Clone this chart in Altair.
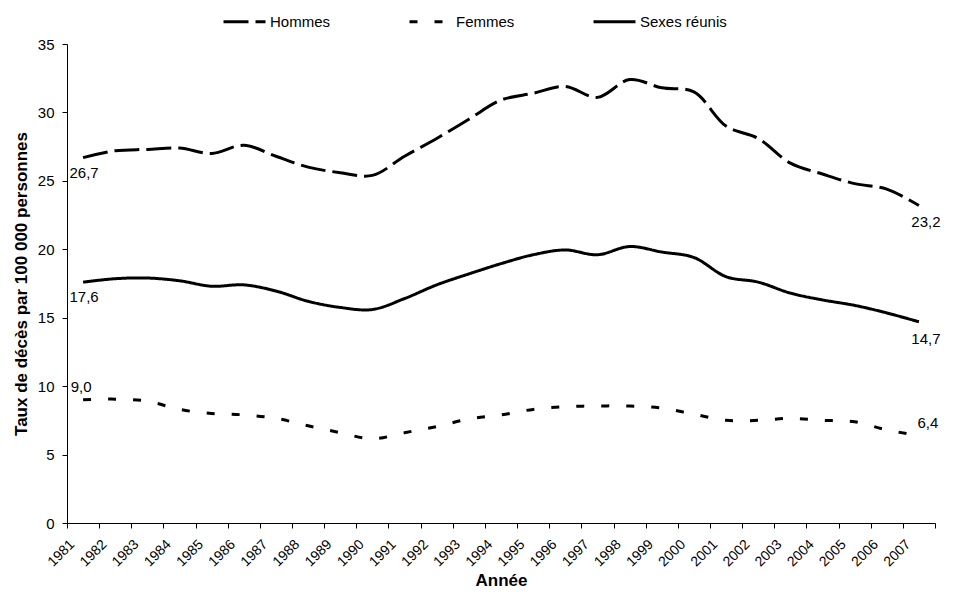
import altair as alt
import pandas as pd

# ---- data ----
years = list(range(1981, 2008))
hommes = [26.7, 27.2, 27.3, 27.4, 27.0, 27.6, 26.8, 26.0, 25.6, 25.4,
          26.8, 28.1, 29.5, 30.9, 31.4, 31.9, 31.1, 32.4, 31.8, 31.5,
          29.0, 28.1, 26.3, 25.5, 24.8, 24.4, 23.2]
femmes = [9.0, 9.05, 8.9, 8.3, 8.0, 7.9, 7.65, 7.1, 6.6, 6.15,
          6.6, 7.05, 7.6, 7.9, 8.3, 8.5, 8.55, 8.55, 8.4, 7.95,
          7.5, 7.5, 7.65, 7.5, 7.4, 6.8, 6.4]
sexes = [17.6, 17.85, 17.9, 17.7, 17.3, 17.4, 16.95, 16.2, 15.75, 15.6,
         16.4, 17.4, 18.2, 18.95, 19.6, 19.95, 19.6, 20.2, 19.8, 19.4,
         18.0, 17.6, 16.8, 16.3, 15.9, 15.35, 14.7]
series_names = ["Hommes", "Femmes", "Sexes réunis"]
y_ticks = [0, 5, 10, 15, 20, 25, 30, 35]

rows = []
for name, vals in zip(series_names, [hommes, femmes, sexes]):
    for yr, v in zip(years, vals):
        rows.append({"annee": yr, "serie": name, "taux": v})
df = pd.DataFrame(rows)

FONT = "Liberation Sans"
n = len(years)
y0 = years[0]

base = alt.Chart(df).transform_calculate(
    pos=f"datum.annee - {y0} + 0.5",
    lab="replace(format(datum.taux, '.1f'), '.', ',')",
)

x_enc = alt.X(
    "pos:Q",
    scale=alt.Scale(domain=[0, n], nice=False, zero=False),
    axis=alt.Axis(
        values=list(range(n + 1)),
        labelExpr=f"datum.value < {n} ? '' + ({y0} + datum.value) : ''",
        labelAngle=-45, labelAlign="right", labelBaseline="middle",
        labelPadding=14, labelOffset=5, tickSize=5, grid=False,
        labelFontSize=14,
        labelOverlap=False, labelFlush=False, labelBound=False,
        title="Année", titlePadding=4,
    ),
)
y_enc = alt.Y(
    "taux:Q",
    scale=alt.Scale(domain=[0, 35], nice=False),
    axis=alt.Axis(
        values=y_ticks, grid=False, tickSize=5, labelPadding=8,
        title="Taux de décès par 100 000 personnes", titlePadding=7,
    ),
)

lines = base.mark_line(
    interpolate="catmull-rom", strokeWidth=3, color="black"
).encode(
    x=x_enc,
    y=y_enc,
    strokeDash=alt.StrokeDash(
        "serie:N",
        scale=alt.Scale(domain=series_names, range=[[25, 7], [8, 17], [1, 0]]),
        legend=alt.Legend(
            title=None, orient="none", legendX=155, legendY=-45,
            direction="horizontal", symbolType="stroke", symbolSize=1764,
            symbolStrokeWidth=3, symbolStrokeColor="black",
            labelFont=FONT, labelFontSize=15, labelColor="black",
            labelOffset=3, columnPadding=72, padding=0,
        ),
    ),
)

def labels(year, cond, dx, dy):
    return base.transform_filter(f"datum.annee == {year} && ({cond})").mark_text(
        dx=dx, dy=dy, align="center", baseline="middle",
        font=FONT, fontSize=15, color="black",
    ).encode(x=x_enc, y=y_enc, text="lab:N")

t1 = labels(years[0], "datum.serie != 'Femmes'", 1, 15)
t2 = labels(years[0], "datum.serie == 'Femmes'", -2, -13)
t3 = labels(years[-1], "datum.serie != 'Femmes'", 7, 17)
t4 = labels(years[-1], "datum.serie == 'Femmes'", 9, -12)

chart = alt.layer(lines, t1, t2, t3, t4).properties(
    width=868, height=479,
    autosize=alt.AutoSizeParams(type="none"),
    padding={"left": 59, "top": 36, "right": 13, "bottom": 74},
    background="white",
).configure_view(stroke=None).configure_axis(
    labelFont=FONT, labelFontSize=15, labelColor="black",
    titleFont=FONT, titleFontSize=17, titleFontWeight="bold", titleColor="black",
    domainColor="black", tickColor="black", domainWidth=1, tickWidth=1,
)

chart.save("out.html", embed_options={"renderer": "svg", "actions": False})
